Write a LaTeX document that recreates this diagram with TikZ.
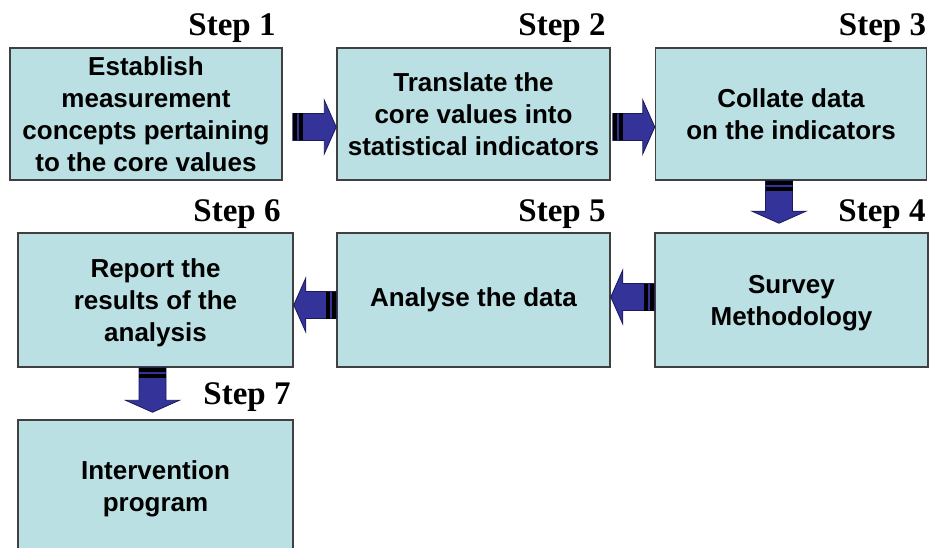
\documentclass[tikz,border=0pt]{standalone}
\usepackage{fontspec}
\usetikzlibrary{calc,positioning}
\newfontfamily\boxfont[Scale=1.0]{Liberation Sans}
\newfontfamily\stepfont{Liberation Serif}
\definecolor{boxfill}{HTML}{BAE0E3}
\definecolor{boxedge}{HTML}{404040}
\definecolor{arrowblue}{HTML}{333399}
\definecolor{arrowedge}{HTML}{1A1A5C}
\tikzset{
  stepbox/.style={draw=boxedge, fill=boxfill, line width=1.5pt, minimum width=272pt,
    minimum height=132pt, inner sep=0pt, align=center,
    font=\boxfont\bfseries\fontsize{26}{32}\selectfont},
  steplabel/.style={anchor=base east, inner sep=0pt,
    font=\stepfont\bfseries\fontsize{33}{34}\selectfont},
  arrowbody/.style={fill=arrowblue, draw=arrowedge, line width=0.8pt, line join=miter},
  arrowstripe/.style={draw=black, line width=27pt, line cap=butt}
}
\newcommand{\fatarrow}[2]{%
  \coordinate (fa-n) at ($(#2)!12pt!(#1)$);
  \filldraw[arrowbody]
    ($(#1)!13.5pt!90:(#2)$) -- ($(fa-n)!13.5pt!90:(#2)$) -- ($(fa-n)!27pt!90:(#2)$) -- (#2)
    -- ($(fa-n)!27pt!-90:(#2)$) -- ($(fa-n)!13.5pt!-90:(#2)$) -- ($(#1)!13.5pt!-90:(#2)$) -- cycle;
  \draw[arrowstripe] (#1) -- ($(#1)!4pt!(#2)$);
  \draw[arrowstripe] ($(#1)!6pt!(#2)$) -- ($(#1)!10pt!(#2)$);
}
\begin{document}
\begin{tikzpicture}[x=1pt, y=-1pt]
  \useasboundingbox (0,0) rectangle (929,548);
  \clip (0,0) rectangle (929,548);

  \node[stepbox] (s1) at (146,114) {Establish\\measurement\\concepts pertaining\\to the core values};
  \node[stepbox, minimum width=273pt] (s2) at (473.5,114) {Translate the\\core values into\\statistical indicators};
  \node[stepbox, minimum width=271pt] (s3) at (791,114) {Collate data\\on the indicators};
  \node[stepbox, minimum width=273pt, minimum height=134pt, text depth=-1pt] (s4) at (791.5,300) {Survey\\Methodology};
  \node[stepbox, minimum width=273pt, minimum height=134pt] (s5) at (473.5,300) {Analyse the data};
  \node[stepbox, minimum width=275pt, minimum height=134pt, text depth=-1pt] (s6) at (155.5,300) {Report the\\results of the\\analysis};
  \node[stepbox, minimum width=275pt, minimum height=144pt, text depth=12pt] (s7) at (155.5,492) {Intervention\\program};

  \node[steplabel] (l1) at ($(s1.north east)+(-7,-12)$) {Step 1};
  \node[steplabel] (l2) at ($(s2.north east)+(-5,-12)$) {Step 2};
  \node[steplabel] (l3) at ($(s3.north east)+(-1,-12)$) {Step 3};
  \node[steplabel] (l4) at ($(s4.north east)+(-3,-11)$) {Step 4};
  \node[steplabel] (l5) at ($(s5.north east)+(-5,-11)$) {Step 5};
  \node[steplabel] (l6) at ($(s6.north east)+(-13,-11)$) {Step 6};
  \node[steplabel] (l7) at ($(s7.north east)+(-3,-15)$) {Step 7};

  \coordinate (t12) at ($(s1.east)+(10,13)$);
  \coordinate (h12) at (s2.west |- t12);
  \coordinate (t23) at ($(s2.east)+(2,13)$);
  \coordinate (h23) at (s3.west |- t23);
  \coordinate (t34) at ($(s3.south)+(-12,0)$);
  \coordinate (h34) at ($(s4.north -| t34)+(0,-9)$);
  \coordinate (t45) at ($(s4.west)+(0,-3)$);
  \coordinate (h45) at (s5.east |- t45);
  \coordinate (t56) at ($(s5.west)+(0,5)$);
  \coordinate (h56) at (s6.east |- t56);
  \coordinate (t67) at ($(s6.south)+(-3,0)$);
  \coordinate (h67) at ($(s7.north -| t67)+(0,-7)$);

  \fatarrow{t12}{h12}
  \fatarrow{t23}{h23}
  \fatarrow{t34}{h34}
  \fatarrow{t45}{h45}
  \fatarrow{t56}{h56}
  \fatarrow{t67}{h67}
\end{tikzpicture}
\end{document}
